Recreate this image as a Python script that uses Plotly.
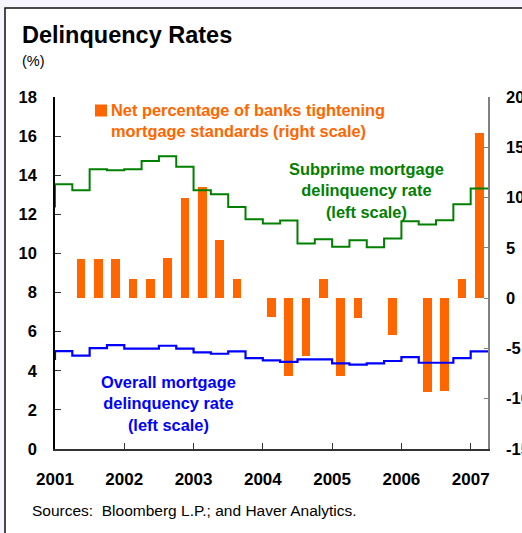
import plotly.graph_objects as go

# Quarterly observations, 2000Q4 through 2007Q1
quarters = ["2000Q4",
            "2001Q1", "2001Q2", "2001Q3", "2001Q4",
            "2002Q1", "2002Q2", "2002Q3", "2002Q4",
            "2003Q1", "2003Q2", "2003Q3", "2003Q4",
            "2004Q1", "2004Q2", "2004Q3", "2004Q4",
            "2005Q1", "2005Q2", "2005Q3", "2005Q4",
            "2006Q1", "2006Q2", "2006Q3", "2006Q4",
            "2007Q1"]

# Subprime mortgage delinquency rate (%, left scale)
subprime = [12.35,
            13.54, 13.23, 14.31, 14.26,
            14.31, 14.73, 14.97, 14.43,
            13.23, 13.03, 12.37, 11.75,
            11.53, 11.69, 10.51, 10.73,
            10.34, 10.68, 10.32, 10.77,
            11.65, 11.48, 11.70, 12.52,
            13.32]

# Overall mortgage delinquency rate (%, left scale)
overall = [4.55,
           5.01, 4.77, 5.16, 5.31,
           5.13, 5.13, 5.28, 5.13,
           4.94, 4.87, 4.99, 4.65,
           4.53, 4.46, 4.58, 4.58,
           4.38, 4.31, 4.38, 4.50,
           4.70, 4.41, 4.41, 4.65,
           4.99]

# Net percentage of banks tightening mortgage standards (right scale), 2001Q1-2007Q1
bar_quarters = quarters[1:]
tightening = [0.0, 3.9, 3.9, 3.9,
              1.9, 1.9, 4.0, 10.0,
              11.1, 5.8, 1.9, 0.0,
              -1.9, -7.7, -5.8, 1.9,
              -7.7, -2.0, 0.0, -3.7,
              0.0, -9.3, -9.2, 1.9,
              16.4]

year_ticks = [2001, 2002, 2003, 2004, 2005, 2006, 2007]
year_labels = [str(y) for y in year_ticks]

left_ticks = [0, 2, 4, 6, 8, 10, 12, 14, 16, 18]
left_labels = [str(v) for v in left_ticks]
right_ticks = [-15, -10, -5, 0, 5, 10, 15, 20]
right_labels = [str(v) for v in right_ticks]


def quarter_end(label):
    """Decimal-year position of the end of a quarter such as '2003Q2'."""
    year, q = label.split("Q")
    return int(year) + int(q) * 0.25


x_end = [quarter_end(q) for q in quarters]
x_mid = [quarter_end(q) - 0.125 for q in bar_quarters]
quarter_ticks = [quarter_end(q) for q in bar_quarters[:-1]]

X_RANGE = [2001.0, 2007.25]
LEFT_RANGE = [0, 18]
RIGHT_RANGE = [-15, 20]

ORANGE = "#FF6600"
GREEN = "#008000"
BLUE = "#0000FF"
FONT = "Liberation Sans, Arial, sans-serif"

W, H = 522, 533
ML, MR, MT, MB = 55, 34, 97, 84
PW, PH = W - ML - MR, H - MT - MB


def px(x):
    return (x - ML) / PW


def py(y):
    return (H - MB - y) / PH


fig = go.Figure()

fig.add_trace(go.Bar(
    x=x_mid, y=tightening, width=0.125,
    marker=dict(color=ORANGE, line=dict(width=0)),
    xaxis="x", yaxis="y", showlegend=False,
))

fig.add_trace(go.Scatter(
    x=x_end, y=subprime, mode="lines",
    line=dict(color=GREEN, width=2, shape="vh"),
    xaxis="x", yaxis="y2", showlegend=False,
))

fig.add_trace(go.Scatter(
    x=x_end, y=overall, mode="lines",
    line=dict(color=BLUE, width=2.2, shape="vh"),
    xaxis="x", yaxis="y2", showlegend=False,
))

tick_font = dict(family=FONT, size=16.5, color="black", weight="bold")

fig.update_layout(
    template="none",
    width=W, height=H,
    margin=dict(l=ML, r=MR, t=MT, b=MB, pad=0, autoexpand=False),
    paper_bgcolor="#F6F4FC",
    plot_bgcolor="rgba(0,0,0,0)",
    bargap=0,
    xaxis=dict(
        range=X_RANGE, tickvals=year_ticks, ticktext=year_labels,
        ticks="inside", ticklen=6, tickcolor="#333333", tickwidth=1,
        showline=True, linecolor="#333333", linewidth=1.5,
        showgrid=False, zeroline=False, automargin=False,
        tickfont=dict(family=FONT, size=17, color="black", weight="bold"),
        ticklabelstandoff=14,
    ),
    xaxis2=dict(
        range=X_RANGE, overlaying="x", anchor="free", side="bottom",
        position=(0 - RIGHT_RANGE[0]) / (RIGHT_RANGE[1] - RIGHT_RANGE[0]),
        tickvals=quarter_ticks, ticks="outside", ticklen=6,
        tickcolor="#222222", tickwidth=1,
        showticklabels=False, showline=True, linecolor="black", linewidth=1.5,
        showgrid=False, zeroline=False, automargin=False,
    ),
    yaxis=dict(
        range=RIGHT_RANGE, side="right",
        tickvals=right_ticks, ticktext=right_labels,
        ticks="inside", ticklen=4, tickcolor="#808080", tickwidth=1,
        showline=True, linecolor="#808080", linewidth=1.5,
        showgrid=False, zeroline=False, automargin=False,
        tickfont=tick_font, ticklabelstandoff=13,
    ),
    yaxis2=dict(
        range=LEFT_RANGE, side="left", overlaying="y",
        tickvals=left_ticks, ticktext=left_labels,
        ticks="inside", ticklen=6, tickcolor="#333333", tickwidth=1,
        showline=True, linecolor="black", linewidth=1.5,
        showgrid=False, zeroline=False, automargin=False,
        tickfont=tick_font, ticklabelstandoff=13,
    ),
    shapes=[
        # white panel with frame
        dict(type="rect", xref="paper", yref="paper", layer="below",
             x0=px(5), y0=py(700), x1=px(700), y1=py(8),
             fillcolor="white", line=dict(color="#111111", width=1.5)),
        # orange key square
        dict(type="rect", xref="paper", yref="paper", layer="above",
             x0=px(95), y0=py(116.5), x1=px(107), y1=py(104.5),
             fillcolor=ORANGE, line=dict(width=0)),
    ],
)

annotations = [
    dict(text="<b>Delinquency Rates</b>", x=px(20), y=py(35.5),
         xanchor="left", yanchor="middle",
         font=dict(family=FONT, size=23.5, color="black")),
    dict(text="(%)", x=px(20), y=py(61), xanchor="left", yanchor="middle",
         font=dict(family=FONT, size=14.5, color="black")),
    dict(text="<b>Net percentage of banks tightening<br>mortgage standards (right scale)</b>",
         x=px(109), y=py(120.7), xanchor="left", yanchor="middle", align="left",
         font=dict(family=FONT, size=16.4, color=ORANGE)),
    dict(text="<b>Subprime mortgage<br>delinquency rate<br>(left scale)</b>",
         x=px(366), y=py(190), xanchor="center", yanchor="middle", align="center",
         font=dict(family=FONT, size=16.4, color=GREEN)),
    dict(text="<b>Overall mortgage<br>delinquency rate<br>(left scale)</b>",
         x=px(168), y=py(403.3), xanchor="center", yanchor="middle", align="center",
         font=dict(family=FONT, size=16.4, color=BLUE)),
    dict(text="Sources:\u00a0 Bloomberg L.P.; and Haver Analytics.",
         x=px(30), y=py(510), xanchor="left", yanchor="middle",
         font=dict(family=FONT, size=15.5, color="black")),
]
for a in annotations:
    a.update(xref="paper", yref="paper", showarrow=False)
fig.update_layout(annotations=annotations)

fig.write_html("out.html")
